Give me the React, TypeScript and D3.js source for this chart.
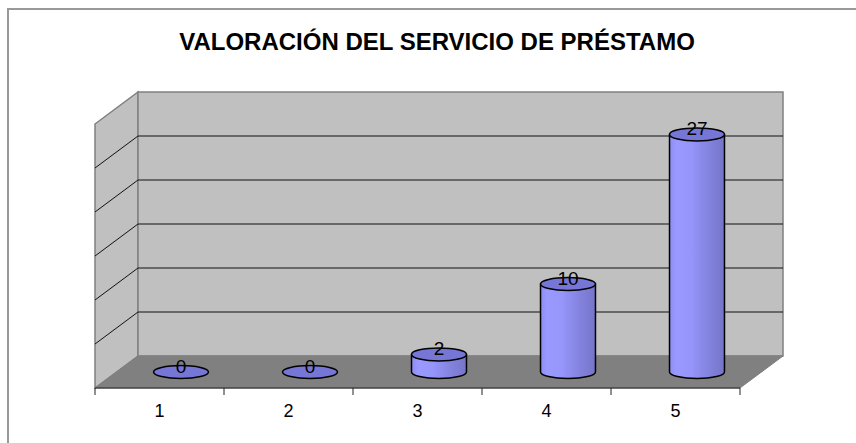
import { useEffect, useRef } from 'react';
import * as d3 from 'd3';

// chart data
const categories = ['1', '2', '3', '4', '5'];
const values = [0, 0, 2, 10, 27];
const gridValues = [5, 10, 15, 20, 25];
const title = 'VALORACIÓN DEL SERVICIO DE PRÉSTAMO';

const W = 856, H = 443;

const App = () => {
    const ref = useRef<SVGSVGElement>(null);

    useEffect(() => {
        const svg = d3.select(ref.current);
        svg.selectAll('*').remove();

        // front plane of the plot and depth offset of the 3d box
        const left = 95, right = 740, floorFront = 388;
        const dx = 43, dy = 32;
        const back = { left: left + dx, right: right + dx, bottom: floorFront - dy, top: 92 };

        const x = d3.scaleBand<string>().domain(categories).range([left, right]);
        const y = d3.scaleLinear().domain([0, 30]).range([back.bottom, back.top]);
        const font = 'Arial, "Liberation Sans", sans-serif';

        // gradient for the cylinder body
        const defs = svg.append('defs');
        const grad = defs.append('linearGradient').attr('id', 'cyl').attr('x1', '0%').attr('x2', '100%');
        [['0%', '#8c8cf2'], ['12%', '#9999ff'], ['40%', '#9595fa'], ['65%', '#8686e4'], ['88%', '#7b7bd2'], ['100%', '#7474c8']]
            .forEach(([o, c]) => grad.append('stop').attr('offset', o).attr('stop-color', c));

        // outer frame
        svg.append('rect').attr('x', 8).attr('y', 9).attr('width', 1000).attr('height', 1000)
            .attr('fill', 'white').attr('stroke', '#999').attr('stroke-width', 2);

        svg.append('text').attr('x', 437).attr('y', 50).attr('text-anchor', 'middle')
            .attr('font-family', font).attr('font-weight', 'bold').attr('font-size', 24)
            .text(title);

        // walls and floor
        const wallStroke = '#808080';
        svg.append('polygon')
            .attr('points', [[left, back.top + dy], [back.left, back.top], [back.left, back.bottom], [left, floorFront]].join(' '))
            .attr('fill', '#c0c0c0').attr('stroke', wallStroke).attr('stroke-width', 1.5);
        svg.append('rect').attr('x', back.left).attr('y', back.top)
            .attr('width', back.right - back.left).attr('height', back.bottom - back.top)
            .attr('fill', '#c0c0c0').attr('stroke', wallStroke).attr('stroke-width', 1.5);
        svg.append('polygon')
            .attr('points', [[left, floorFront], [back.left, back.bottom], [back.right, back.bottom], [right, floorFront]].join(' '))
            .attr('fill', '#808080').attr('stroke', wallStroke).attr('stroke-width', 1);

        // gridlines on back wall and left wall
        gridValues.forEach(v => {
            svg.append('line').attr('x1', back.left).attr('x2', back.right).attr('y1', y(v)).attr('y2', y(v))
                .attr('stroke', '#111').attr('stroke-width', 1);
            svg.append('line').attr('x1', left).attr('x2', back.left).attr('y1', y(v) + dy).attr('y2', y(v))
                .attr('stroke', '#111').attr('stroke-width', 1);
        });

        // front edge + ticks
        svg.append('line').attr('x1', left).attr('x2', right).attr('y1', floorFront).attr('y2', floorFront)
            .attr('stroke', '#222').attr('stroke-width', 1.2);
        const tickXs = categories.map(c => x(c)!).concat([right]);
        tickXs.forEach(tx => {
            svg.append('line').attr('x1', tx).attr('x2', tx).attr('y1', floorFront).attr('y2', floorFront + 7)
                .attr('stroke', '#222').attr('stroke-width', 1);
        });
        svg.selectAll('text.cat').data(categories).enter().append('text')
            .attr('class', 'cat')
            .attr('x', d => x(d)! + x.bandwidth() / 2).attr('y', 417)
            .attr('text-anchor', 'middle').attr('font-family', font).attr('font-size', 18)
            .text(d => d);

        // cylinders at mid depth
        const rx = x.bandwidth() * 0.213, ry = 6.5;
        categories.forEach((c, i) => {
            const v = values[i];
            const cx = x(c)! + x.bandwidth() / 2 + dx / 2;
            const topY = y(v) + dy / 2;
            const botY = y(0) + dy / 2;
            const g = svg.append('g');
            if (v > 0) {
                g.append('path')
                    .attr('d', `M ${cx - rx} ${topY} L ${cx - rx} ${botY} A ${rx} ${ry} 0 0 0 ${cx + rx} ${botY} L ${cx + rx} ${topY} Z`)
                    .attr('fill', 'url(#cyl)').attr('stroke', '#000').attr('stroke-width', 1.5);
            }
            g.append('ellipse').attr('cx', cx).attr('cy', topY).attr('rx', rx).attr('ry', ry)
                .attr('fill', '#7676d6').attr('stroke', '#000').attr('stroke-width', 1.5);
            g.append('text').attr('x', cx).attr('y', topY + 1).attr('text-anchor', 'middle')
                .attr('font-family', font).attr('font-size', 19).text(v);
        });
    }, []);

    return (
        <svg ref={ref} width={W} height={H} style={{ position: 'absolute', left: 0, top: 0 }} />
    );
};

export default App;
